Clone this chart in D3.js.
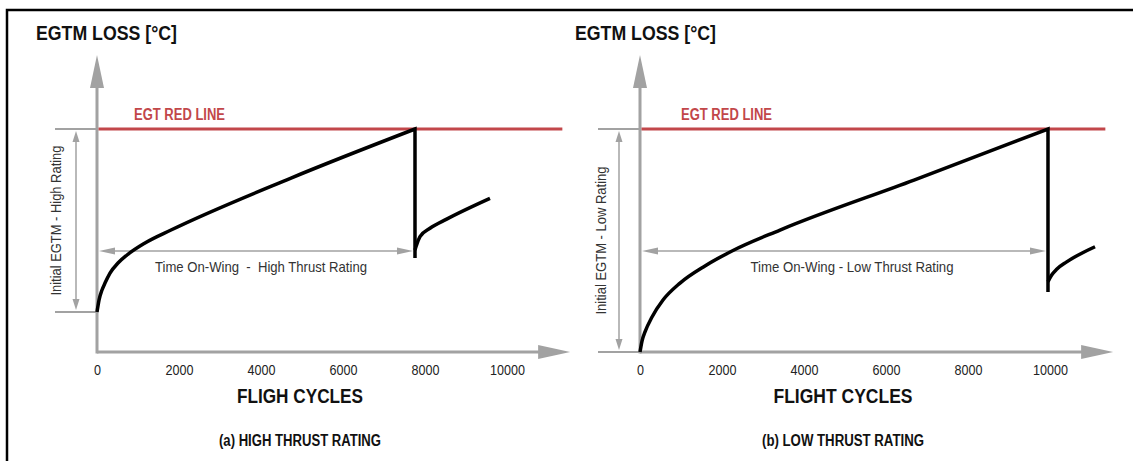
<!DOCTYPE html>
<html lang="en">
<head>
    <meta charset="UTF-8">
    <title>EGTM loss vs flight cycles</title>
    <script src="https://d3js.org/d3.v7.min.js"></script>
    <style>
        body {
            margin: 0;
            background: #fff;
        }
        svg {
            display: block;
        }
        text {
            font-family: "Liberation Sans Narrow", "Arial Narrow", "Liberation Sans", Arial, sans-serif;
            fill: #1a1a1a;
        }
    </style>
</head>
<body>
<div id="container"></div>
<script>

    // tick labels on the x axis (flight cycles)
    const tickCycles = [0, 2000, 4000, 6000, 8000, 10000];

    // EGT red line and the level of the "time on-wing" arrow (loss, arbitrary degC)
    const redLineLoss = 100;
    const onWingLoss = 45.3;

    // (a) high thrust rating - wear curve, then shop visit drop, then recovery
    const highWearCycles = [0, 49, 122, 195, 317, 512, 732, 1171, 1805, 4732, 7756];
    const highWearLoss = [17.9, 23.3, 27.8, 30.9, 35.4, 39.9, 43.5, 48.9, 54.7, 78.0, 100];
    const highDropLoss = 42.2;
    const highRecoveryCycles = [7756, 7780, 7878, 8122, 8529, 9585];
    const highRecoveryLoss = [45.7, 47.2, 51.7, 55.5, 59.6, 68.9];

    // (b) low thrust rating
    const lowWearCycles = [0, 49, 122, 293, 561, 976, 1585, 2244, 3415, 6683, 9951];
    const lowWearLoss = [0, 4.9, 9.0, 15.7, 23.3, 30.9, 38.6, 45.3, 54.7, 77.1, 100];
    const lowDropLoss = 26.9;
    const lowRecoveryCycles = [9951, 10041, 10163, 10407, 11098];
    const lowRecoveryLoss = [31.5, 34.5, 37.1, 40.4, 47.2];

    // texts
    const yTitles = ['EGTM LOSS [°C]', 'EGTM LOSS [°C]'];
    const xTitles = ['FLIGH CYCLES', 'FLIGHT CYCLES'];
    const captions = ['(a) HIGH THRUST RATING', '(b) LOW THRUST RATING'];
    const onWingLabels = ['Time On-Wing  -  High Thrust Rating', 'Time On-Wing - Low Thrust Rating'];
    const initialLabels = ['Initial EGTM - High Rating', 'Initial EGTM - Low Rating'];

    const W = 1133, H = 461;
    const grey = '#a2a2a2';
    const red = '#c2474a';

    const svg = d3.select('#container').append('svg')
        .attr('width', W)
        .attr('height', H);

    // frame (only top and left edges are inside the picture)
    svg.append('rect')
        .attr('x', 7).attr('y', 10)
        .attr('width', 1200).attr('height', 500)
        .attr('fill', 'none')
        .attr('stroke', '#000')
        .attr('stroke-width', 2.5);

    const panels = [
        {
            ox: 97, wearC: highWearCycles, wearL: highWearLoss, drop: highDropLoss,
            recC: highRecoveryCycles, recL: highRecoveryLoss,
            yTitleX: 36, redTextDx: 37, initCenter: 55, onWingX: 261,
            yTitleLen: 141, onWingLen: 212, initLen: 150, xTitleLen: 126, capLen: 162
        },
        {
            ox: 640, wearC: lowWearCycles, wearL: lowWearLoss, drop: lowDropLoss,
            recC: lowRecoveryCycles, recL: lowRecoveryLoss,
            yTitleX: 575, redTextDx: 41, initCenter: 600, onWingX: 852,
            yTitleLen: 141, onWingLen: 203, initLen: 148, xTitleLen: 139, capLen: 162
        }
    ];

    const axisEndCycles = 11540;
    const axisTopLoss = 133.2;
    const redEndCycles = 11350;

    panels.forEach(function(p, i) {

        const x = d3.scaleLinear().domain([0, 10000]).range([p.ox, p.ox + 410]);
        const y = d3.scaleLinear().domain([0, 100]).range([352, 129]);

        const g = svg.append('g');

        const startLoss = p.wearL[0];
        const peakCycles = p.wearC[p.wearC.length - 1];

        // grey reference ticks to the left of the y axis
        [redLineLoss, startLoss].forEach(function(v) {
            g.append('line')
                .attr('x1', x(0) - 42).attr('x2', x(0))
                .attr('y1', y(v)).attr('y2', y(v))
                .attr('stroke', grey).attr('stroke-width', 2);
        });

        // x axis line + arrow
        const xTip = x(axisEndCycles);
        g.append('line')
            .attr('x1', x(0)).attr('x2', xTip - 28)
            .attr('y1', y(0)).attr('y2', y(0))
            .attr('stroke', grey).attr('stroke-width', 3);
        g.append('path')
            .attr('d', `M${xTip},${y(0)} L${xTip - 32},${y(0) - 7} L${xTip - 32},${y(0) + 7} Z`)
            .attr('fill', grey);

        // y axis line + arrow
        const yTip = y(axisTopLoss);
        g.append('line')
            .attr('x1', x(0)).attr('x2', x(0))
            .attr('y1', y(0) + 1.5).attr('y2', yTip + 28)
            .attr('stroke', grey).attr('stroke-width', 3);
        g.append('path')
            .attr('d', `M${x(0)},${yTip} L${x(0) - 7},${yTip + 33} L${x(0) + 7},${yTip + 33} Z`)
            .attr('fill', grey);

        // EGT red line
        g.append('line')
            .attr('x1', x(0) + 1.5).attr('x2', x(redEndCycles))
            .attr('y1', y(redLineLoss)).attr('y2', y(redLineLoss))
            .attr('stroke', red).attr('stroke-width', 3);
        g.append('text')
            .attr('x', x(0) + p.redTextDx)
            .attr('y', y(redLineLoss) - 9)
            .attr('font-size', 16)
            .attr('font-weight', 'bold')
            .attr('textLength', 91)
            .attr('lengthAdjust', 'spacingAndGlyphs')
            .style('fill', red)
            .text('EGT RED LINE');

        // vertical double arrow "initial EGTM"
        const ax = x(0) - 21;
        const yA = y(redLineLoss) + 2, yB = y(startLoss) - 2;
        g.append('line')
            .attr('x1', ax).attr('x2', ax)
            .attr('y1', yA + 8).attr('y2', yB - 8)
            .attr('stroke', grey).attr('stroke-width', 1.5);
        g.append('path')
            .attr('d', `M${ax},${yA} L${ax - 3.5},${yA + 11} L${ax + 3.5},${yA + 11} Z M${ax},${yB} L${ax - 3.5},${yB - 11} L${ax + 3.5},${yB - 11} Z`)
            .attr('fill', grey);
        const midY = (y(redLineLoss) + y(startLoss)) / 2;
        g.append('text')
            .attr('transform', `translate(${p.initCenter + 6},${midY}) rotate(-90)`)
            .attr('text-anchor', 'middle')
            .attr('font-size', 15)
            .attr('textLength', p.initLen)
            .attr('lengthAdjust', 'spacingAndGlyphs')
            .style('fill', '#333')
            .text(initialLabels[i]);

        // horizontal double arrow "time on-wing"
        const hy = y(onWingLoss);
        const hx1 = x(0) + 2, hx2 = x(peakCycles) - 2;
        g.append('line')
            .attr('x1', hx1 + 8).attr('x2', hx2 - 8)
            .attr('y1', hy).attr('y2', hy)
            .attr('stroke', grey).attr('stroke-width', 1.5);
        g.append('path')
            .attr('d', `M${hx1},${hy} L${hx1 + 16},${hy - 3.5} L${hx1 + 16},${hy + 3.5} Z M${hx2},${hy} L${hx2 - 16},${hy - 3.5} L${hx2 - 16},${hy + 3.5} Z`)
            .attr('fill', grey);
        g.append('text')
            .attr('x', p.onWingX)
            .attr('y', hy + 21)
            .attr('text-anchor', 'middle')
            .attr('font-size', 15)
            .attr('textLength', p.onWingLen)
            .attr('lengthAdjust', 'spacingAndGlyphs')
            .style('white-space', 'pre')
            .style('fill', '#333')
            .text(onWingLabels[i]);

        // EGTM curve: wear, then drop at shop visit
        const wear = p.wearC.map((c, k) => [c, p.wearL[k]]);
        const rec = p.recC.map((c, k) => [c, p.recL[k]]);
        const line = d3.line()
            .x(d => x(d[0]))
            .y(d => y(d[1]))
            .curve(d3.curveMonotoneX);

        g.append('path')
            .attr('d', line(wear) + `L${x(peakCycles)},${y(p.drop)}`)
            .attr('fill', 'none')
            .attr('stroke', '#000')
            .attr('stroke-width', 3.5)
            .attr('stroke-linejoin', 'miter');

        g.append('path')
            .attr('d', line(rec))
            .attr('fill', 'none')
            .attr('stroke', '#000')
            .attr('stroke-width', 3.5);

        // tick labels
        const xAxis = d3.axisBottom(x)
            .tickValues(tickCycles)
            .tickSize(0)
            .tickPadding(12)
            .tickFormat(d3.format('d'));

        const ag = g.append('g')
            .attr('transform', `translate(0,${y(0)})`)
            .call(xAxis);
        ag.select('.domain').remove();
        ag.selectAll('text')
            .attr('font-size', 15)
            .attr('textLength', d => String(d).length * 7)
            .attr('lengthAdjust', 'spacingAndGlyphs')
            .style('font-family', '"Liberation Sans Narrow", "Arial Narrow", "Liberation Sans", Arial, sans-serif')
            .style('fill', '#222');

        // titles
        g.append('text')
            .attr('x', p.yTitleX)
            .attr('y', 40)
            .attr('font-size', 21)
            .attr('font-weight', 'bold')
            .attr('textLength', p.yTitleLen)
            .attr('lengthAdjust', 'spacingAndGlyphs')
            .style('fill', '#111')
            .text(yTitles[i]);

        g.append('text')
            .attr('x', x(5000) - 2)
            .attr('y', 403)
            .attr('text-anchor', 'middle')
            .attr('font-size', 21)
            .attr('font-weight', 'bold')
            .attr('textLength', p.xTitleLen)
            .attr('lengthAdjust', 'spacingAndGlyphs')
            .style('fill', '#111')
            .text(xTitles[i]);

        g.append('text')
            .attr('x', x(5000) - 2)
            .attr('y', 446)
            .attr('text-anchor', 'middle')
            .attr('font-size', 16)
            .attr('font-weight', 'bold')
            .attr('textLength', p.capLen)
            .attr('lengthAdjust', 'spacingAndGlyphs')
            .style('fill', '#111')
            .text(captions[i]);
    });

</script>
</body>
</html>
